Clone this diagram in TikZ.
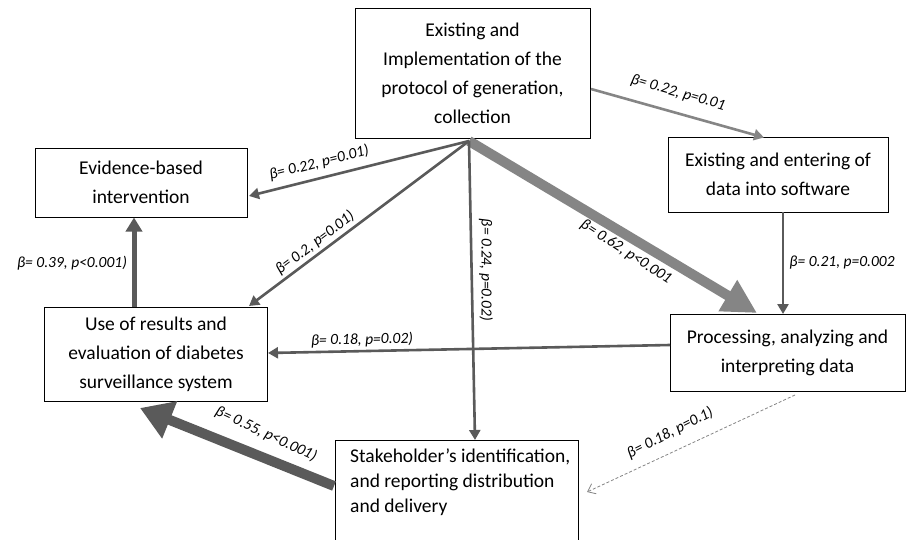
\documentclass[tikz,border=0pt]{standalone}
\usepackage{fontspec}
\setmainfont{Carlito}
\usetikzlibrary{arrows.meta}
\definecolor{darkg}{HTML}{5A5A5A}
\definecolor{lightg}{HTML}{858585}
\begin{document}
\begin{tikzpicture}[x=1pt,y=-1pt,
  box/.style={draw=black, line width=0.9pt, fill=white, inner sep=2pt, align=center,
    font=\fontsize{19.5}{29}\selectfont},
  lbl/.style={font=\fontsize{15.5}{17}\selectfont\itshape, inner sep=0pt},
  darr/.style={draw=darkg, line width=2.6pt, -{Triangle[length=10pt,width=11pt]}},
  larr/.style={draw=lightg, line width=2.6pt, -{Triangle[length=10pt,width=11pt]}},
  dasharr/.style={draw=lightg, line width=0.8pt, dash pattern=on 3pt off 2pt, -{Straight Barb[length=7pt,width=11pt]}}
]
\clip (0,0) rectangle (907,540);
\fill[white] (0,0) rectangle (907,540);

% boxes
\node[box, minimum width=235pt, minimum height=130pt] (top) at (472.5,73)
  {Existing and\\Implementation of the\\protocol of generation,\\collection};
\node[box, minimum width=212pt, minimum height=69pt] (evid) at (141,182.5)
  {Evidence-based\\intervention};
\node[box, minimum width=223pt, minimum height=94pt] (use) at (156,354)
  {Use of results and\\evaluation of diabetes\\surveillance system};
\node[box, minimum width=220pt, minimum height=75pt] (soft) at (778,174.5)
  {Existing and entering of\\data into software};
\node[box, minimum width=235pt, minimum height=77pt] (proc) at (787.5,352.5)
  {Processing, analyzing and\\interpreting data};
\node[box, minimum width=243pt, minimum height=125pt] (stake) at (456.5,502.5) {};
\node[anchor=north west, align=left, inner sep=0pt, font=\fontsize{19.5}{25}\selectfont] (staketext) at (350,449)
  {Stakeholder’s identification,\\and reporting distribution\\and delivery};

% connector end points
\coordinate (h) at (469,141);
\coordinate (t1) at (591,89);
\coordinate (s1) at (764,137.5);
\coordinate (p1) at (757,313);
\coordinate (e1) at (249,196);
\coordinate (u1) at (249,306);
\coordinate (k1) at (475,440);
\coordinate (u2) at (134,307);
\coordinate (e2) at (134,217.5);
\coordinate (s2) at (783,212);
\coordinate (p2) at (783,314);
\coordinate (p3) at (670,345);
\coordinate (u3) at (268,353);
\coordinate (k2) at (334,486);
\coordinate (u4) at (140,408);
\coordinate (p4) at (795,395);
\coordinate (k3) at (587,492);

% connectors
\draw[larr] (t1) -- (s1);
\draw[draw=lightg, line width=10pt, -{Triangle[length=34pt,width=34pt]}] (h) -- (p1);
\draw[darr] (h) -- (e1);
\draw[darr] (h) -- (u1);
\draw[darr] (h) -- (k1);
\draw[draw=darkg, line width=5pt, -{Triangle[length=14pt,width=16pt]}] (u2) -- (e2);
\draw[darr] (s2) -- (p2);
\draw[darr] (p3) -- (u3);
\draw[draw=darkg, line width=10pt, -{Triangle[length=32pt,width=38pt]}] (k2) -- (u4);
\draw[dasharr] (p4) -- (k3);

% labels
\node[lbl, rotate=-16] (l1) at (678,93) {β= 0.22, p=0.01};
\node[lbl, rotate=-33] (l2) at (626,252) {β= 0.62, p<0.001};
\node[lbl, rotate=14] (l3) at (319,163) {β= 0.22, p=0.01)};
\node[lbl, rotate=37] (l4) at (315,243) {β= 0.2, p=0.01)};
\node[lbl, rotate=-90] (l5) at (486,270) {β= 0.24, p=0.02)};
\node[lbl] (l6) at (72,263) {β= 0.39, p<0.001)};
\node[lbl] (l7) at (842,263) {β= 0.21, p=0.002};
\node[lbl, rotate=1] (l8) at (362,340) {β= 0.18, p=0.02)};
\node[lbl, rotate=-25] (l9) at (266,434) {β= 0.55, p<0.001)};
\node[lbl, rotate=27] (l10) at (670,433) {β= 0.18, p=0.1)};
\end{tikzpicture}
\end{document}
